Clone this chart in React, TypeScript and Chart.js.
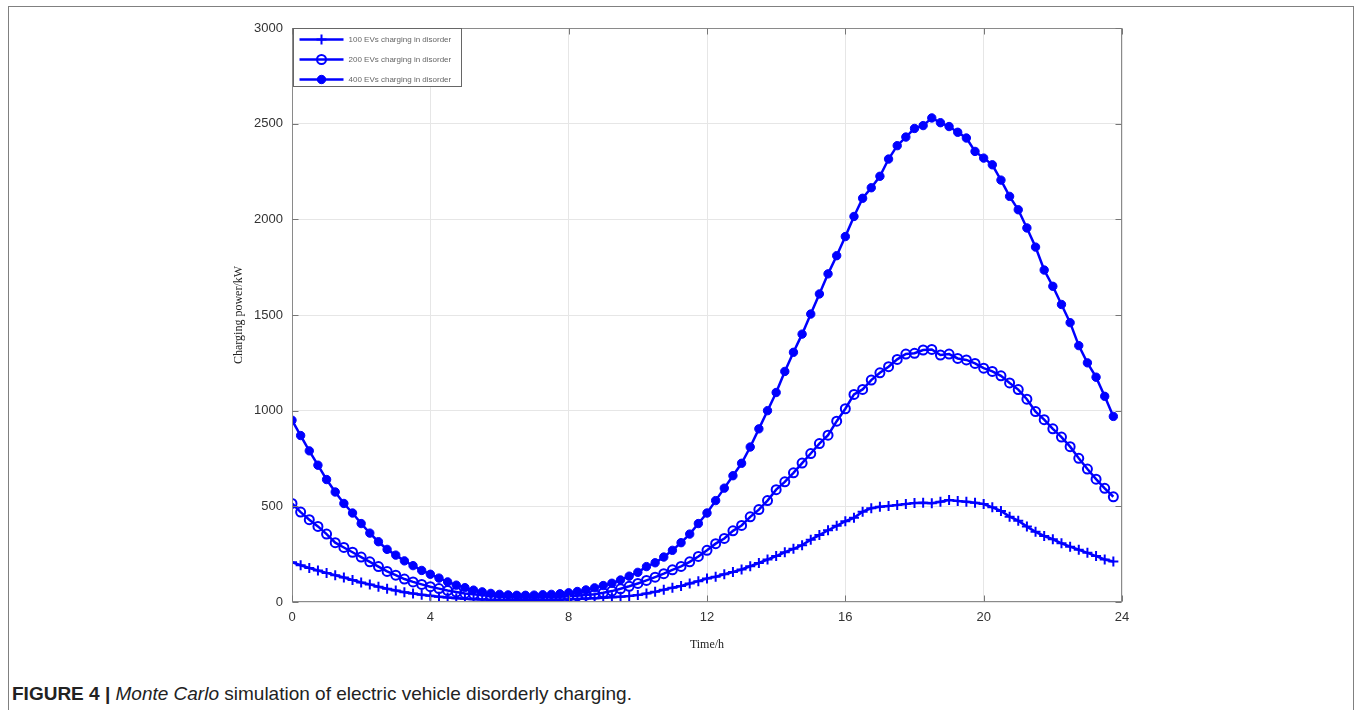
import React, { useEffect, useRef } from "react";
import { Chart, registerables } from "chart.js";

Chart.register(...registerables);

// Time of day (h), 15-minute sampling
const times = [
  0, 0.25, 0.5, 0.75, 1, 1.25, 1.5, 1.75, 2, 2.25, 2.5, 2.75,
  3, 3.25, 3.5, 3.75, 4, 4.25, 4.5, 4.75, 5, 5.25, 5.5, 5.75,
  6, 6.25, 6.5, 6.75, 7, 7.25, 7.5, 7.75, 8, 8.25, 8.5, 8.75,
  9, 9.25, 9.5, 9.75, 10, 10.25, 10.5, 10.75, 11, 11.25, 11.5, 11.75,
  12, 12.25, 12.5, 12.75, 13, 13.25, 13.5, 13.75, 14, 14.25, 14.5, 14.75,
  15, 15.25, 15.5, 15.75, 16, 16.25, 16.5, 16.75, 17, 17.25, 17.5, 17.75,
  18, 18.25, 18.5, 18.75, 19, 19.25, 19.5, 19.75, 20, 20.25, 20.5, 20.75,
  21, 21.25, 21.5, 21.75, 22, 22.25, 22.5, 22.75, 23, 23.25, 23.5, 23.75,
];

// Charging power (kW) – 100 EVs
const evs100 = [
  208, 192, 178, 165, 152, 140, 128, 115, 102, 92, 80, 69,
  60, 51, 44, 38, 33, 28, 24, 20, 17, 15, 13, 12,
  11, 10, 10, 10, 10, 11, 12, 13, 14, 16, 18, 20,
  22, 25, 28, 31, 36, 44, 53, 64, 75, 84, 97, 109,
  123, 132, 145, 157, 170, 187, 204, 222, 240, 260, 278, 297,
  326, 350, 375, 398, 422, 440, 472, 490, 498, 502, 507, 512,
  518, 519, 516, 524, 533, 528, 524, 519, 512, 495, 476, 446,
  425, 394, 367, 345, 328, 307, 289, 273, 257, 240, 222, 212,
];

// Charging power (kW) – 200 EVs
const evs200 = [
  515, 470, 430, 395, 355, 310, 285, 260, 235, 210, 185, 160,
  140, 120, 105, 92, 80, 70, 60, 52, 45, 40, 35, 31,
  28, 26, 25, 24, 24, 25, 26, 28, 30, 32, 36, 41,
  48, 57, 69, 82, 97, 113, 130, 148, 168, 186, 210, 238,
  270, 305, 332, 372, 400, 445, 483, 530, 587, 628, 675, 726,
  776, 828, 872, 945, 1010, 1085, 1111, 1160, 1198, 1230, 1268, 1296,
  1300, 1317, 1320, 1291, 1296, 1273, 1265, 1247, 1222, 1205, 1182, 1145,
  1110, 1060, 995, 953, 905, 862, 812, 751, 695, 642, 594, 550,
];

// Charging power (kW) – 400 EVs
const evs400 = [
  950, 870, 790, 715, 640, 575, 515, 465, 410, 360, 315, 275,
  245, 215, 190, 165, 145, 125, 105, 88, 75, 62, 53, 45,
  40, 37, 35, 35, 36, 38, 40, 43, 48, 55, 63, 74,
  86, 98, 115, 135, 155, 185, 205, 235, 270, 310, 355, 410,
  465, 530, 595, 660, 725, 810, 905, 1000, 1095, 1205, 1305, 1400,
  1505, 1610, 1715, 1810, 1910, 2015, 2110, 2165, 2225, 2315, 2385, 2430,
  2475, 2490, 2530, 2505, 2485, 2455, 2425, 2355, 2320, 2285, 2205, 2120,
  2050, 1955, 1855, 1735, 1650, 1555, 1460, 1340, 1250, 1175, 1075, 970,
];

const seriesLabels = [
  "100 EVs charging in disorder",
  "200 EVs charging in disorder",
  "400 EVs charging in disorder",
];

const xTicks = [0, 4, 8, 12, 16, 20, 24];
const yTicks = [0, 500, 1000, 1500, 2000, 2500, 3000];

const BLUE = "rgb(0,0,255)";
const SERIF = '"Liberation Serif", "Times New Roman", serif';
const SANS = '"Liberation Sans", Arial, sans-serif';

const framePlugin = {
  id: "matlabFrame",
  afterDraw(chart: any) {
    const { ctx, chartArea: a, scales } = chart;
    const xs = scales.x;
    const ys = scales.y;
    const L = Math.round(a.left) + 0.5;
    const R = Math.round(a.right) - 0.5;
    const T = Math.round(a.top) + 0.5;
    const B = Math.round(a.bottom) - 0.5;
    ctx.save();
    // plot box
    ctx.strokeStyle = "#8a8a8a";
    ctx.lineWidth = 1;
    ctx.strokeRect(L, T, R - L, B - T);
    // inward ticks
    ctx.strokeStyle = "#777";
    ctx.beginPath();
    for (const v of yTicks) {
      const y = Math.round(ys.getPixelForValue(v)) + 0.5;
      ctx.moveTo(L, y);
      ctx.lineTo(L + 6, y);
      ctx.moveTo(R, y);
      ctx.lineTo(R - 6, y);
    }
    for (const v of xTicks) {
      const x = Math.round(xs.getPixelForValue(v)) + 0.5;
      ctx.moveTo(x, B);
      ctx.lineTo(x, B - 6);
      ctx.moveTo(x, T);
      ctx.lineTo(x, T + 6);
    }
    ctx.stroke();

    // legend box
    const bx = L + 1;
    const by = T;
    const bw = 168;
    const bh = 58;
    ctx.fillStyle = "#fff";
    ctx.fillRect(bx, by, bw, bh);
    ctx.strokeStyle = "#666";
    ctx.lineWidth = 1;
    ctx.strokeRect(bx, by, bw, bh);

    chart.data.datasets.forEach((ds: any, i: number) => {
      const ry = by + 11 + i * 20;
      const x0 = bx + 6;
      const x1 = bx + 50;
      const mx = bx + 28;
      ctx.strokeStyle = BLUE;
      ctx.lineWidth = 2.5;
      ctx.beginPath();
      ctx.moveTo(x0, ry);
      ctx.lineTo(x1, ry);
      ctx.stroke();
      const r = ds.pointRadius;
      ctx.lineWidth = ds.pointBorderWidth;
      if (ds.pointStyle === "cross") {
        ctx.beginPath();
        ctx.moveTo(mx, ry - r);
        ctx.lineTo(mx, ry + r);
        ctx.moveTo(mx - r, ry);
        ctx.lineTo(mx + r, ry);
        ctx.stroke();
      } else {
        ctx.beginPath();
        ctx.arc(mx, ry, r, 0, Math.PI * 2);
        if (ds.pointBackgroundColor !== "rgba(0,0,0,0)") {
          ctx.fillStyle = BLUE;
          ctx.fill();
        }
        ctx.stroke();
      }
      ctx.fillStyle = "#666";
      ctx.font = `8px ${SANS}`;
      ctx.textBaseline = "middle";
      ctx.textAlign = "left";
      ctx.fillText(ds.label, bx + 55, ry);
    });
    ctx.restore();
  },
};

export default function App() {
  const canvasRef = useRef<HTMLCanvasElement | null>(null);

  useEffect(() => {
    if (!canvasRef.current) return;
    const mk = (vals: number[]) => times.map((t, i) => ({ x: t, y: vals[i] }));
    const chart = new Chart(canvasRef.current, {
      type: "line",
      data: {
        datasets: [
          {
            label: seriesLabels[0],
            data: mk(evs100),
            borderColor: BLUE,
            backgroundColor: BLUE,
            borderWidth: 2.5,
            pointStyle: "cross",
            pointRadius: 5,
            pointBorderWidth: 2,
            pointBorderColor: BLUE,
            pointBackgroundColor: BLUE,
            tension: 0,
          },
          {
            label: seriesLabels[1],
            data: mk(evs200),
            borderColor: BLUE,
            backgroundColor: BLUE,
            borderWidth: 2.5,
            pointStyle: "circle",
            pointRadius: 4.5,
            pointBorderWidth: 2,
            pointBorderColor: BLUE,
            pointBackgroundColor: "rgba(0,0,0,0)",
            tension: 0,
          },
          {
            label: seriesLabels[2],
            data: mk(evs400),
            borderColor: BLUE,
            backgroundColor: BLUE,
            borderWidth: 2.5,
            pointStyle: "circle",
            pointRadius: 4.2,
            pointBorderWidth: 1,
            pointBorderColor: BLUE,
            pointBackgroundColor: BLUE,
            tension: 0,
          },
        ],
      },
      options: {
        responsive: true,
        maintainAspectRatio: false,
        animation: false,
        layout: { padding: { left: 232, right: 234, top: 28, bottom: 8 } },
        plugins: { legend: { display: false }, tooltip: { enabled: false } },
        scales: {
          x: {
            type: "linear",
            min: 0,
            max: 24,
            afterBuildTicks: (s: any) => {
              s.ticks = xTicks.map((v) => ({ value: v }));
            },
            afterFit: (s: any) => {
              s.height = 50;
            },
            grid: { color: "#e6e6e6", lineWidth: 1, drawTicks: false },
            border: { display: false },
            ticks: {
              font: { family: SANS, size: 13 },
              color: "#333",
              padding: 8,
              maxRotation: 0,
              autoSkip: false,
              callback: (v: any) => String(v),
            },
            title: {
              display: true,
              text: "Time/h",
              font: { family: SERIF, size: 12 },
              color: "#222",
              padding: 0,
            },
          },
          y: {
            type: "linear",
            min: 0,
            max: 3000,
            afterBuildTicks: (s: any) => {
              s.ticks = yTicks.map((v) => ({ value: v }));
            },
            afterFit: (s: any) => {
              s.width = 60;
            },
            grid: { color: "#e6e6e6", lineWidth: 1, drawTicks: false },
            border: { display: false },
            ticks: {
              font: { family: SANS, size: 13 },
              color: "#333",
              padding: 9,
              autoSkip: false,
              callback: (v: any) => String(v),
            },
            title: {
              display: true,
              text: "Charging power/kW",
              font: { family: SERIF, size: 12 },
              color: "#222",
              padding: 0,
            },
          },
        },
      },
      plugins: [framePlugin],
    });
    return () => chart.destroy();
  }, []);

  return (
    <div
      style={{
        position: "fixed",
        left: 0,
        top: 0,
        width: 1356,
        height: 710,
        overflow: "hidden",
        background: "#fff",
      }}
    >
      <div
        style={{
          position: "absolute",
          left: 8,
          top: 6,
          width: 1344,
          height: 720,
          border: "1px solid #808080",
        }}
      />
      <div style={{ position: "absolute", left: 0, top: 0, width: 1356, height: 660 }}>
        <canvas ref={canvasRef} />
      </div>
      <div
        style={{
          position: "absolute",
          left: 12,
          top: 684,
          fontFamily: SANS,
          fontSize: 19,
          color: "#222",
          whiteSpace: "nowrap",
          lineHeight: "20px",
        }}
      >
        <b>FIGURE 4 | </b>
        <i>Monte Carlo</i> simulation of electric vehicle disorderly charging.
      </div>
    </div>
  );
}
